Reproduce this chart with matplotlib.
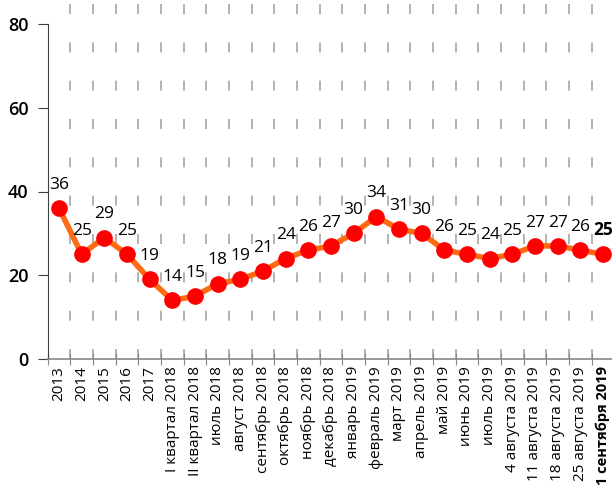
import matplotlib
matplotlib.use("Agg")
import matplotlib.pyplot as plt
import numpy as np

categories = ["2013", "2014", "2015", "2016", "2017",
              "I квартал 2018", "II квартал 2018", "июль 2018", "август 2018",
              "сентябрь 2018", "октябрь 2018", "ноябрь 2018", "декабрь 2018",
              "январь 2019", "февраль 2019", "март 2019", "апрель 2019",
              "май 2019", "июнь 2019", "июль 2019", "4 августа 2019",
              "11 августа 2019", "18 августа 2019", "25 августа 2019",
              "1 сентября 2019"]
values = [36, 25, 29, 25, 19, 14, 15, 18, 19, 21, 24, 26, 27, 30, 34, 31, 30,
          26, 25, 24, 25, 27, 27, 26, 25]
yticks = [0, 20, 40, 60, 80]

plt.rcParams['font.family'] = ['Open Sans', 'DejaVu Sans']

fig = plt.figure(figsize=(6.12, 4.87), dpi=100)
W, H = 612, 487
ax = fig.add_axes([47.7 / W, 128 / H, (614.3 - 47.7) / W, 359 / H])

x = np.arange(len(categories))
ax.set_xlim(-0.5, len(categories) - 0.5)
ax.set_ylim(0, 359 / 4.1875)

# dashed vertical grid at category boundaries
for b in np.arange(0.5, len(categories) - 0.5, 1.0):
    ax.axvline(b, color='#a6a6a6', lw=1.2, linestyle=(0, (6, 17)), zorder=1)

ax.plot(x, values, color='#ff6a13', lw=4, zorder=2)
ax.plot(x, values, 'o', color='#ff0000', markersize=11, zorder=3)

for i, v in enumerate(values):
    ax.annotate(str(v), (i, v), xytext=(0, 11), textcoords='offset points',
                ha='center', va='bottom', fontsize=12.5,
                fontweight='bold' if i == len(values) - 1 else 'normal', color='black')

ax.spines['top'].set_visible(False)
ax.spines['right'].set_visible(False)
ax.spines['left'].set_bounds(0, 80)
ax.spines['left'].set_color('#404040')
ax.spines['bottom'].set_color('#888888')
ax.spines['bottom'].set_linewidth(1.2)

ax.set_yticks(yticks)
ax.set_yticklabels([str(t) for t in yticks], fontsize=13, fontweight='semibold')
ax.tick_params(axis='y', length=7, color='#404040', pad=7)

ax.set_xticks(np.arange(-0.5, len(categories) - 0.5 + 1, 1.0), minor=False)
ax.set_xticklabels([])
ax.tick_params(axis='x', which='major', direction='inout', length=8, color='#888888')
ax.set_xticks(x, minor=True)
ax.set_xticklabels(categories, minor=True, rotation=90, fontsize=11)
ax.tick_params(axis='x', which='minor', length=0, pad=5)
lbls = ax.get_xticklabels(minor=True)
lbls[-1].set_fontweight('bold')
lbls[-1].set_fontsize(10.5)

fig.savefig("out.png", dpi=100)
